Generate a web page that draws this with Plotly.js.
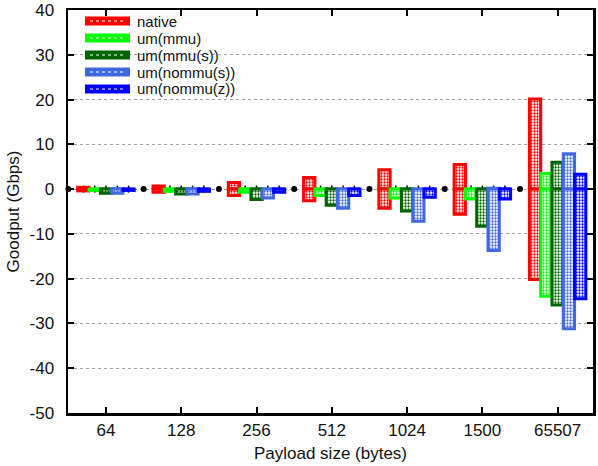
<!DOCTYPE html>
<html>
<head>
<meta charset="utf-8">
<script src="https://cdn.plot.ly/plotly-3.0.1.min.js"></script>
<style>html,body{margin:0;padding:0;background:#fff;}#chart{width:598px;height:466px;}</style>
</head>
<body>
<div id="chart"></div>
<script>
// ---- data ----
var categories = ['64', '128', '256', '512', '1024', '1500', '65507'];
var seriesNames = ['native', 'um(mmu)', 'um(mmu(s))', 'um(nommu(s))', 'um(nommu(z))'];
var yTickVals = [-50, -40, -30, -20, -10, 0, 10, 20, 30, 40];
var yTickText = ['-50', '-40', '-30', '-20', '-10', '0', '10', '20', '30', '40'];

var nativePos   = [0.4, 0.7, 1.45, 2.6, 4.3, 5.5, 20.1];
var nativeNeg   = [-0.4, -0.7, -1.45, -2.6, -4.3, -5.6, -20.2];
var mmuPos      = [0, 0, 0, 0, 0, 0, 3.5];
var mmuNeg      = [-0.3, -0.5, -0.7, -1.4, -2.0, -2.2, -23.9];
var mmuSPos     = [0, 0, 0, 0, 0, 0, 6.0];
var mmuSNeg     = [-0.9, -1.1, -2.3, -3.6, -4.9, -8.3, -25.9];
var nommuSPos   = [0.1, 0.1, 0, 0, 0, 0.2, 7.9];
var nommuSNeg   = [-0.9, -1.1, -2.0, -4.3, -7.2, -13.7, -31.2];
var nommuZPos   = [0, 0, 0, 0, 0, 0, 3.3];
var nommuZNeg   = [-0.3, -0.5, -0.7, -1.4, -1.8, -2.2, -24.5];
var zeroMarks   = [0, 0, 0, 0, 0, 0, 0];

var posData = [nativePos, mmuPos, mmuSPos, nommuSPos, nommuZPos];
var negData = [nativeNeg, mmuNeg, mmuSNeg, nommuSNeg, nommuZNeg];

// ---- styling ----
var colors = ['#ff0000', '#00ff00', '#006400', '#4169e1', '#0000ff'];
var barWidth = 0.15;
var offsets = [-0.3, -0.15, 0, 0.15, 0.3];
var FONT = 'Liberation Sans, Arial, sans-serif';
var TXT = '#111';

var catIdx = categories.map(function (c, i) { return i; });
var traces = [];

// black marks along zero (beneath the bars, on the main subplot)
var markX = [], markY = [];
offsets.forEach(function (o) {
  catIdx.forEach(function (i) { markX.push(i + o); markY.push(zeroMarks[i]); });
});
traces.push({
  type: 'scatter', mode: 'markers', x: markX, y: markY, showlegend: false, hoverinfo: 'skip',
  marker: {symbol: 'line-ns', size: 5, line: {color: '#000', width: 1.5}},
  xaxis: 'x', yaxis: 'y'
});
var gapX = [], gapY = [];
for (var g = 0; g <= categories.length; g++) { gapX.push(g - 0.5); gapY.push(0); }
traces.push({
  type: 'scatter', mode: 'markers', x: gapX, y: gapY, showlegend: false, hoverinfo: 'skip',
  cliponaxis: false,
  marker: {symbol: 'circle', size: 6, color: '#000'},
  xaxis: 'x', yaxis: 'y'
});

// bars (overlaying subplot so they cover the marks)
seriesNames.forEach(function (name, s) {
  var xs = catIdx.map(function (i) { return i + offsets[s]; });
  var mk = {
    color: '#ffffff',
    line: {color: colors[s], width: 3},
    pattern: {shape: '.', fgcolor: colors[s], bgcolor: '#ffffff', size: 3, solidity: 0.45, fillmode: 'replace'}
  };
  traces.push({
    type: 'bar', name: name, x: xs, y: posData[s], base: 0, width: barWidth,
    marker: mk, showlegend: false, xaxis: 'x2', yaxis: 'y2'
  });
  traces.push({
    type: 'bar', name: name, x: xs, y: negData[s], base: 0, width: barWidth,
    marker: mk, showlegend: false, xaxis: 'x2', yaxis: 'y2'
  });
});

// key (compact, gnuplot style)
var PW = 525, PH = 403, ML = 68, MT = 10;
function px2x(p) { return (p - ML) / PW; }
function px2y(p) { return 1 - (p - MT) / PH; }
var shapes = [], annotations = [];
seriesNames.forEach(function (name, s) {
  var cy = 21 + 17 * s;
  shapes.push({
    type: 'rect', xref: 'paper', yref: 'paper',
    x0: px2x(86), x1: px2x(129), y0: px2y(cy - 3.5), y1: px2y(cy + 3.5),
    line: {color: colors[s], width: 2}, fillcolor: colors[s]
  });
  shapes.push({
    type: 'line', xref: 'paper', yref: 'paper',
    x0: px2x(90), x1: px2x(125), y0: px2y(cy), y1: px2y(cy),
    line: {color: '#ffffff', width: 1, dash: 'dot'}
  });
  annotations.push({
    xref: 'paper', yref: 'paper', x: px2x(136), y: px2y(cy),
    xanchor: 'left', yanchor: 'middle', showarrow: false, text: name,
    font: {family: FONT, size: 15, color: TXT}, borderpad: 0
  });
});

var xRange = [-0.505, 6.47];
var yRange = [-50, 40];

var layout = {
  width: 598, height: 466,
  margin: {l: 68, r: 5, t: 10, b: 53, pad: 0},
  paper_bgcolor: '#ffffff', plot_bgcolor: '#ffffff',
  font: {family: FONT, size: 17, color: TXT},
  barmode: 'overlay',
  showlegend: false,
  shapes: shapes,
  annotations: annotations,
  xaxis: {
    range: xRange, tickmode: 'array', tickvals: catIdx, ticktext: categories,
    showline: true, linecolor: '#000', linewidth: 2.5, mirror: 'ticks',
    ticks: 'inside', ticklen: 6, tickwidth: 2, tickcolor: '#000',
    showgrid: false, zeroline: false, ticklabelstandoff: 0,
    tickfont: {family: FONT, size: 17, color: TXT},
    title: {text: 'Payload size (bytes)', font: {family: FONT, size: 17, color: TXT}, standoff: 8}
  },
  yaxis: {
    range: yRange, tickmode: 'array', tickvals: yTickVals, ticktext: yTickText,
    showline: true, linecolor: '#000', linewidth: 2.5, mirror: 'ticks',
    ticks: 'inside', ticklen: 6, tickwidth: 2, tickcolor: '#000',
    showgrid: true, gridcolor: '#a0a0a0', gridwidth: 1, griddash: '3px,3px',
    zeroline: false, ticklabelstandoff: 8,
    tickfont: {family: FONT, size: 17, color: TXT},
    title: {text: 'Goodput (Gbps)', font: {family: FONT, size: 17, color: TXT}, standoff: 6}
  },
  xaxis2: {range: xRange, overlaying: 'x', visible: false, fixedrange: true},
  yaxis2: {range: yRange, overlaying: 'y', visible: false, fixedrange: true}
};

Plotly.newPlot('chart', traces, layout, {displayModeBar: false, staticPlot: true});
</script>
</body>
</html>
